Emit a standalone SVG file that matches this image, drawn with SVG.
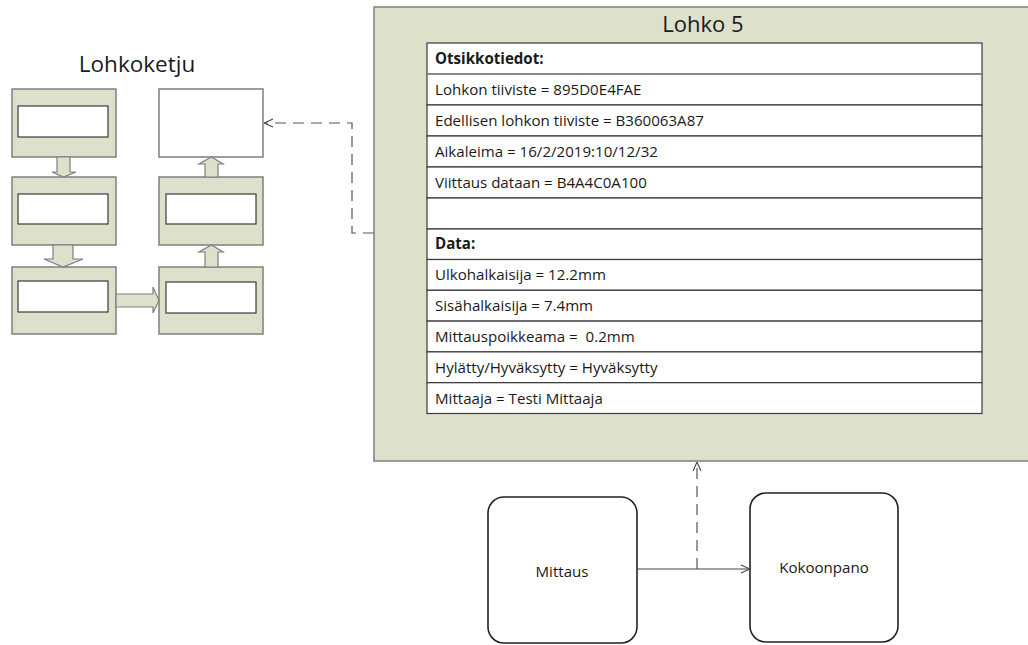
<svg xmlns="http://www.w3.org/2000/svg" width="1028" height="645" viewBox="0 0 1028 645">
  <style>
    .blk { fill: #dde0cb; stroke: #7f7f7f; stroke-width: 1.5; }
    .inner { fill: #ffffff; stroke: #3a3a3a; stroke-width: 1.2; }
    .fat { fill: #dde0cb; stroke: #7f7f7f; stroke-width: 1.2; }
    .cell { fill: #ffffff; stroke: #3a3a3a; stroke-width: 1.2; }
    .lbl { font-family: "Open Sans", "Noto Sans", sans-serif; font-size: 15.1px; fill: #1a1a1a; }
    .bold { font-weight: bold; }
    .title { font-family: "Open Sans", "Noto Sans", sans-serif; font-size: 22.5px; fill: #1a1a1a; }
    .node { fill: #ffffff; stroke: #222222; stroke-width: 1.6; }
    .dash { fill: none; stroke: #555555; stroke-width: 1.2; stroke-dasharray: 11 7; }
    .solid { fill: none; stroke: #444444; stroke-width: 1.2; }
  </style>
  <defs>
    <marker id="open" viewBox="0 0 10 10" refX="10" refY="5" markerWidth="10" markerHeight="10" markerUnits="userSpaceOnUse" orient="auto">
      <path d="M1,1 L10,5 L1,9" fill="none" stroke="#444444" stroke-width="1.1"/>
    </marker>
  </defs>
  <rect width="1028" height="645" fill="#ffffff"/>

  <!-- Chain of blocks -->
  <g id="chain">
    <text class="title" x="137" y="72" text-anchor="middle">Lohkoketju</text>
    <g id="chain-block-1">
      <rect class="blk" x="12" y="89" width="104" height="68"/>
      <rect class="inner" x="18" y="106" width="90" height="31"/>
    </g>
    <g id="chain-block-2">
      <rect class="blk" x="12" y="177" width="104" height="68"/>
      <rect class="inner" x="18" y="194" width="90" height="30"/>
    </g>
    <g id="chain-block-3">
      <rect class="blk" x="12" y="267" width="104" height="67"/>
      <rect class="inner" x="18" y="281" width="90" height="31"/>
    </g>
    <g id="chain-block-4">
      <rect class="blk" x="159" y="267" width="104" height="67"/>
      <rect class="inner" x="166" y="282" width="90" height="31"/>
    </g>
    <g id="chain-block-5">
      <rect class="blk" x="159" y="177" width="104" height="68"/>
      <rect class="inner" x="166" y="194" width="90" height="30"/>
    </g>
    <g id="chain-block-new">
      <rect x="159" y="89" width="104" height="68" fill="#ffffff" stroke="#7f7f7f" stroke-width="1.5"/>
    </g>
    <!-- block arrows -->
    <path class="fat" d="M57,157 L70,157 L70,172 L76,172 L63.5,177 L52,172 L57,172 Z"/>
    <path class="fat" d="M53,245 L73,245 L73,259 L83,259 L63,267 L44,259 L53,259 Z"/>
    <path class="fat" d="M116,294 L153,294 L153,287 L159,300.5 L153,313 L153,307 L116,307 Z"/>
    <path class="fat" d="M205,267 L218,267 L218,252 L223,252 L211.5,245 L199,252 L205,252 Z"/>
    <path class="fat" d="M205,177 L218,177 L218,164 L223,164 L211.5,157 L199,164 L205,164 Z"/>
  </g>

  <!-- Block 5 detail -->
  <g id="lohko-5">
    <rect x="374" y="7" width="660" height="454" fill="#dde0cb" stroke="#7f7f7f" stroke-width="1.5"/>
    <text class="title" x="703" y="32" text-anchor="middle" style="font-size:22px">Lohko 5</text>
    <g id="table">
      <rect class="cell" x="427" y="43" width="555" height="31"/>
      <rect class="cell" x="427" y="74" width="555" height="31"/>
      <rect class="cell" x="427" y="105" width="555" height="31"/>
      <rect class="cell" x="427" y="136" width="555" height="31"/>
      <rect class="cell" x="427" y="167" width="555" height="31"/>
      <rect class="cell" x="427" y="198" width="555" height="31"/>
      <rect class="cell" x="427" y="229" width="555" height="30.5"/>
      <rect class="cell" x="427" y="259.5" width="555" height="30.8"/>
      <rect class="cell" x="427" y="290.3" width="555" height="30.8"/>
      <rect class="cell" x="427" y="321.1" width="555" height="30.8"/>
      <rect class="cell" x="427" y="351.9" width="555" height="30.8"/>
      <rect class="cell" x="427" y="382.7" width="555" height="30.8"/>
      <line x1="427" y1="74" x2="982" y2="74" stroke="#8a8a8a" stroke-width="2"/>
      <text class="lbl bold" x="435" y="64">Otsikkotiedot:</text>
      <text class="lbl" x="435" y="95">Lohkon tiiviste = 895D0E4FAE</text>
      <text class="lbl" x="435" y="126">Edellisen lohkon tiiviste = B360063A87</text>
      <text class="lbl" x="435" y="157">Aikaleima = 16/2/2019:10/12/32</text>
      <text class="lbl" x="435" y="188">Viittaus dataan = B4A4C0A100</text>
      <text class="lbl bold" x="435" y="249">Data:</text>
      <text class="lbl" x="435" y="280">Ulkohalkaisija = 12.2mm</text>
      <text class="lbl" x="435" y="311">Sisähalkaisija = 7.4mm</text>
      <text class="lbl" x="435" y="342" xml:space="preserve">Mittauspoikkeama =  0.2mm</text>
      <text class="lbl" x="435" y="373">Hylätty/Hyväksytty = Hyväksytty</text>
      <text class="lbl" x="435" y="404">Mittaaja = Testi Mittaaja</text>
    </g>
  </g>

  <g id="mittaus">
    <rect class="node" x="488" y="497" width="149" height="146" rx="16"/>
    <text class="lbl" x="562" y="577" text-anchor="middle">Mittaus</text>
  </g>
  <g id="kokoonpano">
    <rect class="node" x="750" y="493" width="148" height="149" rx="16"/>
    <text class="lbl" x="824" y="573" text-anchor="middle">Kokoonpano</text>
  </g>

  <!-- Connectors -->
  <g id="connectors">
    <path class="dash" d="M374,233 L352,233 L352,123 L264,123" marker-end="url(#open)"/>
    <path class="solid" d="M637,569 L750,569" marker-end="url(#open)"/>
    <path class="dash" d="M697,569 L697,462" marker-end="url(#open)"/>
  </g>
</svg>
